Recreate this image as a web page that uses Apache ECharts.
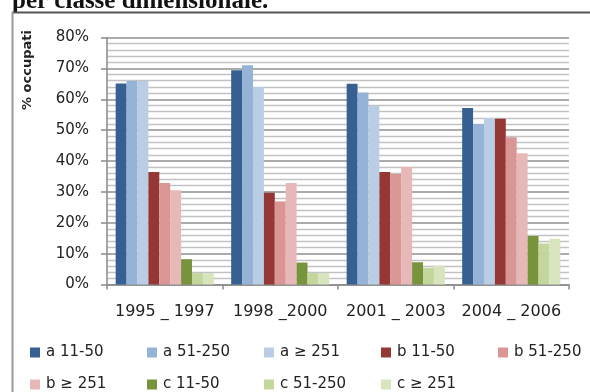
<!DOCTYPE html>
<html><head><meta charset="utf-8">
<script src="https://cdn.jsdelivr.net/npm/echarts@6/dist/echarts.min.js"></script>
<style>html,body{margin:0;padding:0;background:#fff}#c{width:590px;height:392px}</style>
</head><body><div id="c"></div>
<script>
// ---- data ----
const categories = ['1995 _ 1997', '1998 _2000', '2001 _ 2003', '2004 _ 2006'];
const seriesNames = ['a 11-50', 'a 51-250', 'a \u2265 251', 'b 11-50', 'b 51-250', 'b \u2265 251', 'c 11-50', 'c 51-250', 'c \u2265 251'];
const a_11_50  = [65.1, 69.4, 65.0, 57.2];
const a_51_250 = [65.9, 71.0, 62.2, 52.0];
const a_251    = [65.9, 64.0, 57.9, 53.9];
const b_11_50  = [36.4, 29.7, 36.4, 53.7];
const b_51_250 = [32.9, 26.9, 35.8, 47.7];
const b_251    = [30.5, 32.9, 38.1, 42.5];
const c_11_50  = [8.2, 7.1, 7.2, 15.7];
const c_51_250 = [3.7, 3.7, 5.4, 13.3];
const c_251    = [3.7, 3.7, 6.1, 14.8];
const yMin = 0, yMax = 80, yStep = 10;
const yAxisTitle = '% occupati';
const titleText = 'per classe dimensionale.';

// ---- styles ----
const colors = ['#376092', '#95B3D7', '#B9CDE5', '#953735', '#D99694', '#E6B9B8', '#77933C', '#C3D69B', '#D7E4BD'];
const values = [a_11_50, a_51_250, a_251, b_11_50, b_51_250, b_251, c_11_50, c_51_250, c_251];
const font = 'DejaVu Sans';

const chart = echarts.init(document.getElementById('c'), null, {renderer: 'canvas'});
chart.setOption({
  animation: false,
  backgroundColor: '#fff',
  grid: {left: 107, right: 21, top: 37.5, bottom: 107.5, containLabel: false},
  xAxis: {
    type: 'category',
    data: categories,
    axisLine: {lineStyle: {color: '#8a8a8a', width: 1.5}},
    axisTick: {show: true, length: 5, lineStyle: {color: '#8a8a8a', width: 1.5}},
    axisLabel: {margin: 19, color: '#222', fontFamily: font, fontSize: 16, interval: 0}
  },
  yAxis: {
    type: 'value', min: yMin, max: yMax, interval: yStep,
    axisLine: {show: true, lineStyle: {color: '#8a8a8a', width: 1.5}},
    axisTick: {show: true, length: 6, lineStyle: {color: '#8a8a8a', width: 1.5}},
    axisLabel: {formatter: '{value}%', margin: 18, color: '#222', fontFamily: font, fontSize: 15},
    splitLine: {lineStyle: {color: '#8f8f8f', width: 1.6}},
    minorTick: {show: false, splitNumber: 5},
    minorSplitLine: {show: true, lineStyle: {color: '#c2c2c2', width: 1.4}}
  },
  legend: {
    data: seriesNames,
    left: 30, top: 342, width: 580, padding: 0,
    icon: 'rect', itemWidth: 10, itemHeight: 10, itemGap: 11,
    textStyle: {fontFamily: font, fontSize: 15, color: '#222', width: 90, lineHeight: 21, padding: [0, 0, 0, 1]}
  },
  series: seriesNames.map((n, i) => ({
    name: n, type: 'bar', data: values[i],
    itemStyle: {color: colors[i]},
    barGap: '0%', barCategoryGap: '15%'
  })),
  graphic: [
    {type: 'text', left: 12, top: -11, style: {text: titleText, font: 'bold 25px "Liberation Serif"', fill: '#111'}},
    {type: 'line', shape: {x1: 12, y1: 12.5, x2: 590, y2: 12.5}, style: {stroke: '#555', lineWidth: 2}},
    {type: 'line', shape: {x1: 12.5, y1: 12, x2: 12.5, y2: 392}, style: {stroke: '#999', lineWidth: 2}},
    {type: 'text', x: 28, y: 70, rotation: Math.PI / 2,
     style: {text: yAxisTitle, font: 'bold 13px "DejaVu Sans"', fill: '#222', align: 'center', verticalAlign: 'middle'}}
  ]
});
</script>
</body></html>
